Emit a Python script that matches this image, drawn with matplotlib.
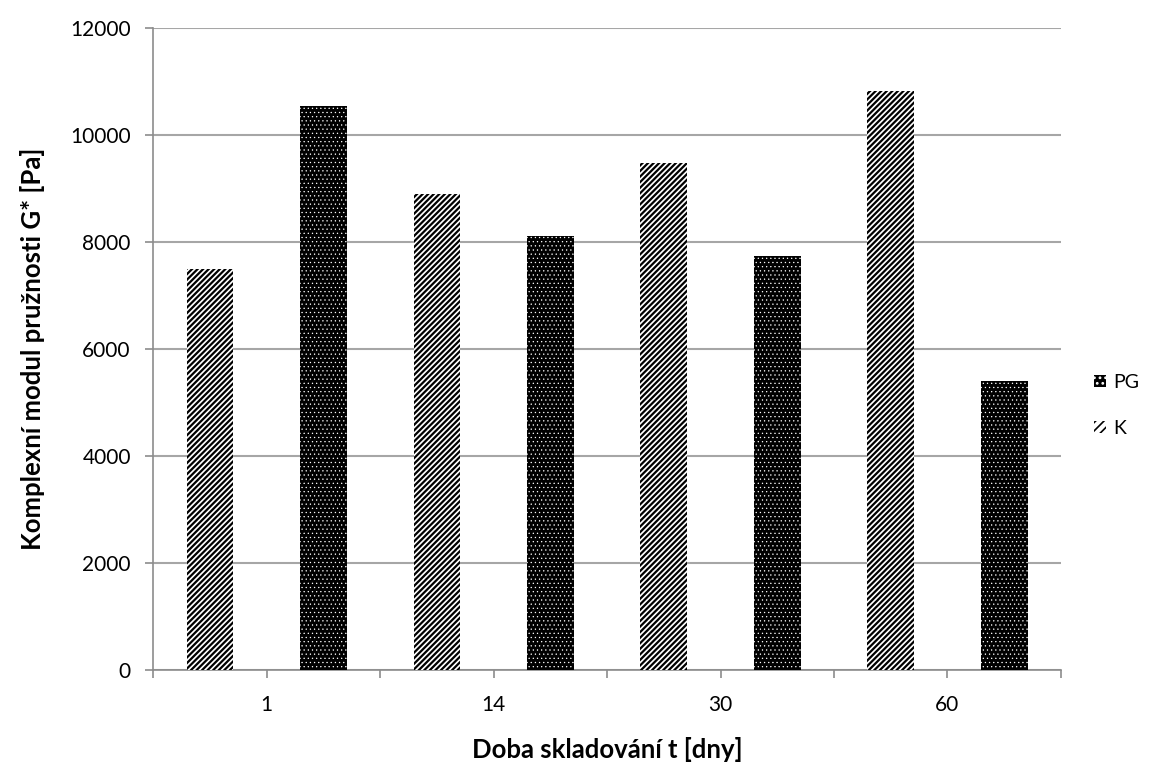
import matplotlib
matplotlib.use("Agg")
import matplotlib.pyplot as plt
from matplotlib.patches import Patch
import numpy as np

plt.rcParams['font.family'] = ['Lato', 'DejaVu Sans']

days = ["1", "14", "30", "60"]
k_vals = [7490, 8900, 9470, 10810]
pg_vals = [10540, 8100, 7730, 5390]

fig = plt.figure(figsize=(11.49, 7.65), dpi=100)
ax = fig.add_axes([0.1332, 0.1242, 0.7902, 0.8396])

# each storage time takes two slots: K on the left, PG on the right
x = np.arange(len(days)) * 2
w = 0.41
plt.rcParams['hatch.linewidth'] = 1.6
ax.bar(x + 0.5, k_vals, width=w, facecolor="white", edgecolor="black",
       hatch="//////", linewidth=0, zorder=3)
plt.rcParams['hatch.linewidth'] = 0.4
ax.bar(x + 1.5, pg_vals, width=w, facecolor="black", edgecolor="white",
       hatch="....", linewidth=0, zorder=3)

ax.set_xlim(0, 2 * len(days))
ax.set_ylim(0, 12000)
ax.set_yticks(np.arange(0, 12001, 2000))
ax.yaxis.grid(True, color="#a6a6a6", linewidth=1.5, zorder=0)

xt = np.arange(0, 2 * len(days) + 1)
xl = []
for i in xt:
    if i % 2 == 1:
        xl.append(days[i // 2])
    else:
        xl.append("")
ax.set_xticks(xt)
ax.set_xticklabels(xl)

for s in ["top", "right"]:
    ax.spines[s].set_visible(False)
for s in ["left", "bottom"]:
    ax.spines[s].set_color("#8c8c8c")
    ax.spines[s].set_linewidth(1.2)
ax.tick_params(axis="both", colors="#8c8c8c", length=6, width=1.2,
               labelsize=15, labelcolor="black")
ax.tick_params(axis="x", pad=12)
ax.tick_params(axis="y", pad=10)

ax.set_xlabel("Doba skladování t [dny]", fontsize=18.5, fontweight="bold",
              labelpad=16)
ax.set_ylabel("Komplexní modul pružnosti G* [Pa]", fontsize=18.5,
              fontweight="bold", labelpad=18)

plt.rcParams['hatch.linewidth'] = 1.2
pg_patch = Patch(facecolor="black", edgecolor="white", hatch="...", linewidth=0, label="PG")
k_patch = Patch(facecolor="white", edgecolor="black", hatch="////", linewidth=0, label="K")
fig.legend(handles=[pg_patch, k_patch], loc="center left", bbox_to_anchor=(0.937, 0.47),
           frameon=False, fontsize=14, handlelength=0.6, handleheight=0.6,
           handletextpad=0.4, labelspacing=1.5)

fig.savefig("out.png", dpi=100)
